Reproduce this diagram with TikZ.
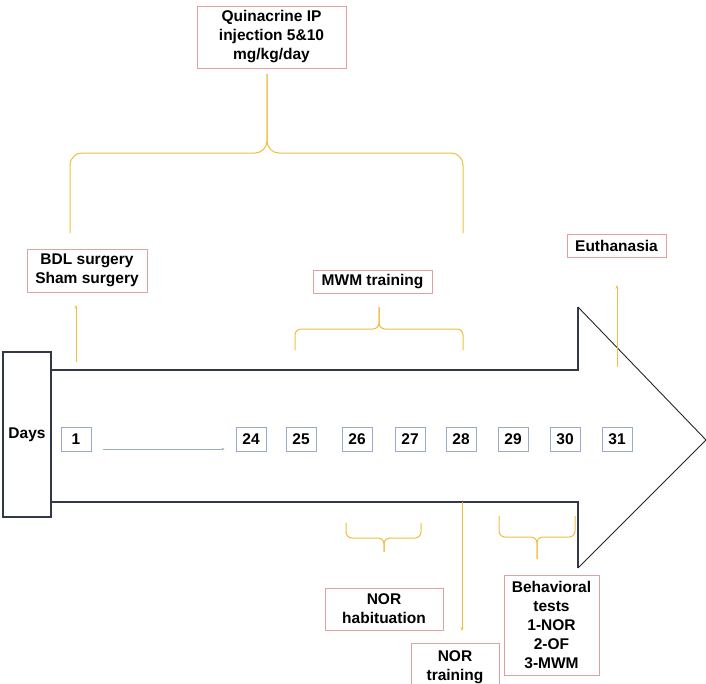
\documentclass[tikz,border=0pt]{standalone}
\usepackage{fontspec}
\setmainfont{Liberation Sans}
\usetikzlibrary{positioning,arrows.meta}
\definecolor{gold}{RGB}{238,190,62}
\definecolor{rose}{RGB}{226,160,160}
\definecolor{navy}{RGB}{50,56,72}
\definecolor{steel}{RGB}{150,172,200}

\begin{document}
\begin{tikzpicture}[
  x=1pt, y=-1pt,
  font=\fontsize{15.5}{19}\selectfont\bfseries,
  lbl/.style={draw=rose, line width=0.8pt, align=center, inner sep=2pt},
  daybox/.style={draw=steel, line width=0.8pt, minimum width=30pt,
                 minimum height=24pt, inner sep=0pt},
  ybrace/.style={draw=gold, line width=1pt},
  yarr/.style={gold, line width=0.9pt, -{Stealth[length=4pt,width=3pt]}},
]
\useasboundingbox (0,0) rectangle (706,683);
\clip (0,0) rectangle (706,683);

% timeline arrow
\draw[navy, line width=1.5pt] (51,370) -- (578,370) -- (578,307);
\draw[navy, line width=1.5pt] (51,502) -- (578,502) -- (578,568);
\draw[black!85, line width=0.9pt, line join=miter] (578,307) -- (706,440) -- (578,568);
\node[draw=navy, fill=white, line width=1.2pt, minimum width=48pt,
      minimum height=165pt, inner sep=0pt] (days) at (27,434.5) {Days};

% days
\foreach \d/\x in {1/76,24/251,25/301,26/357,27/410,28/461,29/513,30/565,31/617}
  \node[daybox] (d\d) at (\x,439) {\d};
\draw[steel, line width=0.7pt, -{Stealth[length=3pt,width=2.5pt]}]
  ([xshift=12pt,yshift=-10pt]d1.east) -- ([xshift=-11pt,yshift=-10pt]d24.west);

% labels
\node[lbl, minimum width=149pt, minimum height=62pt] (quin) at (271.5,37)
  {Quinacrine IP\\ injection 5\&10\\ mg/kg/day};
\node[lbl, minimum width=120pt, minimum height=43pt] (bdl) at (87,270.5)
  {BDL surgery\\ Sham surgery};
\node[lbl, minimum width=119pt, minimum height=23pt] (mwm) at (372.5,281.5)
  {MWM training};
\node[lbl, minimum width=99pt, minimum height=23pt] (euth) at (616.5,245.5)
  {Euthanasia};
\node[lbl, minimum width=118pt, minimum height=42pt] (norhab) at (384,609)
  {NOR\\ habituation};
\node[lbl, minimum width=88pt, minimum height=48pt, anchor=north] (nortr) at (455,643)
  {NOR\\ training};
\node[lbl, minimum width=95pt, minimum height=100pt] (behav) at (551.5,625)
  {Behavioral\\ tests\\ 1-NOR\\ 2-OF\\ 3-MWM};

% braces
\coordinate (qtip) at (267,74);
\draw[ybrace, rounded corners=12pt] (70,233) |- (267,153) -- (qtip);
\draw[ybrace, rounded corners=12pt] (463,233) |- (267,153) -- (qtip);
\coordinate (mtip) at (379,307);
\draw[ybrace, rounded corners=6pt] (295,350) |- (379,329) -- (mtip);
\draw[ybrace, rounded corners=6pt] (463,350) |- (379,329) -- (mtip);
\coordinate (htip) at (384,552);
\draw[ybrace, rounded corners=6pt] (346,523) |- (384,538) -- (htip);
\draw[ybrace, rounded corners=6pt] (421,523) |- (384,538) -- (htip);
\coordinate (btip) at (537,559);
\draw[ybrace, rounded corners=6pt] (499,516) |- (537,537) -- (btip);
\draw[ybrace, rounded corners=6pt] (575,516) |- (537,537) -- (btip);

% arrows
\coordinate (bdlfoot) at (76,362);
\draw[yarr] (bdlfoot) -- (76,305);
\coordinate (euthfoot) at (617,367);
\draw[yarr] (euthfoot) -- (617,285);
\coordinate (nortop) at (462,502);
\draw[yarr, shorten >=12pt] (nortop) -- (nortop |- nortr.north);
\end{tikzpicture}
\end{document}
